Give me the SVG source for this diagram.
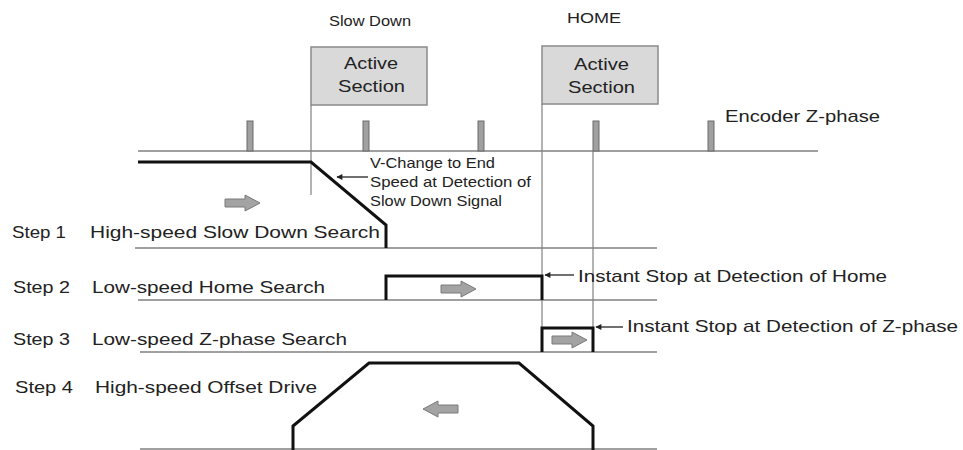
<svg xmlns="http://www.w3.org/2000/svg" width="963" height="450" viewBox="0 0 963 450">
<style>
text{font-family:"Liberation Sans",Arial,sans-serif;fill:#222;}
.lbl{font-size:17px;}
.sm{font-size:15px;}
.base{stroke:#808080;stroke-width:1.6;fill:none;}
.guide{stroke:#808080;stroke-width:1.2;fill:none;}
.prof{stroke:#111;stroke-width:3;fill:none;stroke-linejoin:miter;}
.box{fill:#d9d9d9;stroke:#8a8a8a;stroke-width:1.5;}
.pulse{fill:#a0a0a0;stroke:#6a6a6a;stroke-width:1;}
.ann{stroke:#222;stroke-width:1.3;fill:none;marker-end:url(#ah);}
.garrow{fill:#a3a3a3;stroke:#7a7a7a;stroke-width:1;}
</style>
<defs>
<marker id="ah" viewBox="0 0 10 10" refX="9" refY="5" markerWidth="7" markerHeight="6" markerUnits="userSpaceOnUse" orient="auto">
<path d="M0,0 L10,5 L0,10 Z" fill="#222"/>
</marker>
<path id="rarrow" d="M0,-4 L20,-4 L20,-8 L35,0 L20,8 L20,4 L0,4 Z"/>
</defs>

<g id="top-labels">
<text class="sm" x="329" y="26" textLength="82" lengthAdjust="spacingAndGlyphs">Slow Down</text>
<text class="sm" x="567" y="23" textLength="54" lengthAdjust="spacingAndGlyphs">HOME</text>
</g>

<g id="slowdown-active">
<rect class="box" x="311" y="47" width="116" height="58"/>
<text class="lbl" x="344" y="69" textLength="54" lengthAdjust="spacingAndGlyphs">Active</text>
<text class="lbl" x="338" y="92" textLength="67" lengthAdjust="spacingAndGlyphs">Section</text>
</g>

<g id="home-active">
<rect class="box" x="542" y="46" width="116" height="58"/>
<text class="lbl" x="574" y="70" textLength="55" lengthAdjust="spacingAndGlyphs">Active</text>
<text class="lbl" x="568" y="93" textLength="67" lengthAdjust="spacingAndGlyphs">Section</text>
</g>

<g id="encoder">
<line class="base" x1="138" y1="151" x2="818" y2="151"/>
<rect class="pulse" x="247" y="121" width="6" height="30"/>
<rect class="pulse" x="363" y="121" width="6" height="30"/>
<rect class="pulse" x="478" y="121" width="6" height="30"/>
<rect class="pulse" x="593" y="121" width="6" height="30"/>
<rect class="pulse" x="708" y="121" width="6" height="30"/>
<text class="lbl" x="725" y="122" textLength="155" lengthAdjust="spacingAndGlyphs">Encoder Z-phase</text>
</g>

<g id="connectors">
<line class="guide" x1="311" y1="105" x2="311" y2="195"/>
<line class="guide" x1="542" y1="104" x2="542" y2="352"/>
<line class="guide" x1="593" y1="151" x2="593" y2="328"/>
<line class="ann" x1="368" y1="177" x2="337" y2="177"/>
<line class="ann" x1="574" y1="275" x2="545" y2="275"/>
<line class="ann" x1="623" y1="327" x2="596" y2="327"/>
</g>

<g id="vchange-note">
<text class="sm" x="370" y="168" textLength="125" lengthAdjust="spacingAndGlyphs">V-Change to End</text>
<text class="sm" x="370" y="187" textLength="161" lengthAdjust="spacingAndGlyphs">Speed at Detection of</text>
<text class="sm" x="370" y="206" textLength="132" lengthAdjust="spacingAndGlyphs">Slow Down Signal</text>
</g>

<g id="step1">
<line class="base" x1="135" y1="248" x2="657" y2="248"/>
<polyline class="prof" points="138,162 311,162 386,225 386,248"/>
<use href="#rarrow" class="garrow" x="225" y="203"/>
<text class="lbl" x="12" y="238" textLength="54" lengthAdjust="spacingAndGlyphs">Step 1</text>
<text class="lbl" x="90" y="238" textLength="290" lengthAdjust="spacingAndGlyphs">High-speed Slow Down Search</text>
</g>

<g id="step2">
<line class="base" x1="138" y1="300" x2="657" y2="300"/>
<polyline class="prof" points="386,300 386,276 542,276 542,300"/>
<use href="#rarrow" class="garrow" x="441" y="289"/>
<text class="lbl" x="13" y="293" textLength="57" lengthAdjust="spacingAndGlyphs">Step 2</text>
<text class="lbl" x="92" y="293" textLength="233" lengthAdjust="spacingAndGlyphs">Low-speed Home Search</text>
<text class="lbl" x="578" y="282" textLength="309" lengthAdjust="spacingAndGlyphs">Instant Stop at Detection of Home</text>
</g>

<g id="step3">
<line class="base" x1="140" y1="352" x2="657" y2="352"/>
<polyline class="prof" points="542,352 542,328 593,328 593,352"/>
<use href="#rarrow" class="garrow" x="552" y="340"/>
<text class="lbl" x="13" y="345" textLength="57" lengthAdjust="spacingAndGlyphs">Step 3</text>
<text class="lbl" x="92" y="345" textLength="255" lengthAdjust="spacingAndGlyphs">Low-speed Z-phase Search</text>
<text class="lbl" x="627" y="332" textLength="331" lengthAdjust="spacingAndGlyphs">Instant Stop at Detection of Z-phase</text>
</g>

<g id="step4">
<line class="base" x1="140" y1="449" x2="657" y2="449"/>
<polyline class="prof" points="293,450 293,426 369,363 519,363 593,426 593,450"/>
<use href="#rarrow" class="garrow" transform="translate(458,409) scale(-1,1)"/>
<text class="lbl" x="15" y="393" textLength="58" lengthAdjust="spacingAndGlyphs">Step 4</text>
<text class="lbl" x="95" y="393" textLength="222" lengthAdjust="spacingAndGlyphs">High-speed Offset Drive</text>
</g>
</svg>
